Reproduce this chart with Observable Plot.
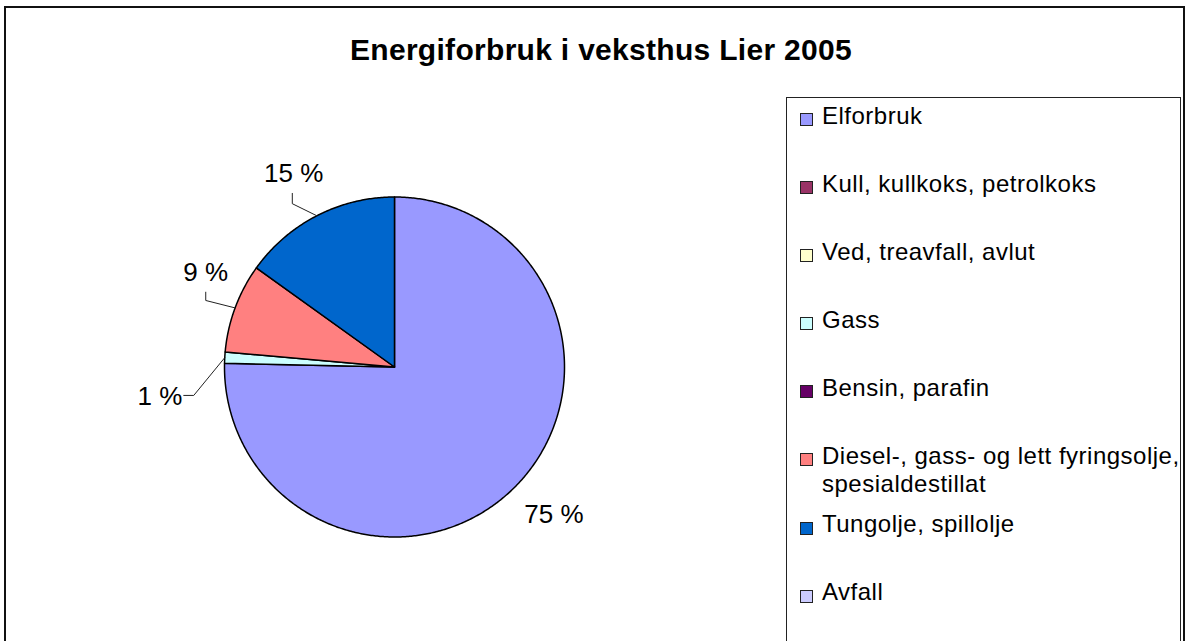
<!DOCTYPE html>
<html>
<head>
<meta charset="utf-8">
<script src="https://cdn.jsdelivr.net/npm/d3@7"></script>
<script src="https://cdn.jsdelivr.net/npm/@observablehq/plot@0.6"></script>
<style>
  html, body { margin: 0; padding: 0; background: #fff; }
  #chart { position: relative; width: 1189px; height: 641px; overflow: hidden;
           font-family: "Liberation Sans", Arial, sans-serif; }
  #frame { position: absolute; left: 4px; top: 6px; width: 1181px; height: 700px;
           border: 2px solid #111; box-sizing: border-box; }
  #pie { position: absolute; left: 0; top: 0; }
  #title { position: absolute; left: 0; width: 1202px; top: 34.6px; text-align: center;
           font-weight: bold; font-size: 30px; line-height: 30px; color: #000; white-space: nowrap;
           letter-spacing: 0.3px; }
  #legend { position: absolute; left: 786px; top: 97px; width: 395px; height: 600px;
            border: 1px solid #222; box-sizing: border-box; background: #fff; }
  .item { position: absolute; left: 0; width: 100%; font-size: 24px; line-height: 28px;
          letter-spacing: 0.5px; color: #000; }
  .sw { position: absolute; left: 13px; top: 11.3px; width: 13px; height: 13px;
        border: 1px solid #222; box-sizing: border-box; }
  .txt { position: absolute; left: 35px; top: 0; width: 364px; white-space: normal; }
</style>
</head>
<body>
<div id="chart">
  <div id="frame"></div>
  <div id="pie"></div>
  <div id="title"></div>
  <div id="legend"></div>
</div>
<script>
// ---- data ----
const title = "Energiforbruk i veksthus Lier 2005";
const categories = [
  "Elforbruk",
  "Kull, kullkoks, petrolkoks",
  "Ved, treavfall, avlut",
  "Gass",
  "Bensin, parafin",
  "Diesel-, gass- og lett fyringsolje, spesialdestillat",
  "Tungolje, spillolje",
  "Avfall"
];
const shares = [75.35, 0, 0, 1.05, 0, 8.5, 15.1, 0];
const colors = ["#9999FF", "#993366", "#FFFFCC", "#CCFFFF", "#660066", "#FF8080", "#0066CC", "#CCCCFF"];

// ---- layout (pixels) ----
const W = 1189, H = 641;
const CX = 394, CY = 366.5, R = 170;
// label placement: distance from centre (px), angle (deg clockwise from 12 o'clock),
// leader elbow/end offsets relative to the label centre (px, screen coords)
const labelPlacement = {
  "Elforbruk": { dist: 217.2, angle: 132.8, leader: null },
  "Gass": { dist: 236.4, angle: 262.8, leader: [[33.8, -1.2], [23.8, -1.2]] },
  "Diesel-, gass- og lett fyringsolje, spesialdestillat": { dist: 211.1, angle: 296.6, leader: [[0, 28], [0, 19.7]] },
  "Tungolje, spillolje": { dist: 218.5, angle: 332.5, leader: [[-1.3, 30.5], [-1.3, 20.2]] }
};

// ---- geometry in data units (1 unit = radius) ----
const rad = d => d * Math.PI / 180;
const polar = (r, deg) => [r * Math.sin(rad(deg)), r * Math.cos(rad(deg))];
const total = d3.sum(shares);
let cum = 0;
const slices = [];
categories.forEach((cat, i) => {
  const v = shares[i];
  const a0 = cum / total * 360;
  cum += v;
  const a1 = cum / total * 360;
  if (v > 0) slices.push({ cat, v, a0, a1 });
});

const slicePts = [];
slices.forEach(s => {
  slicePts.push({ cat: s.cat, x: 0, y: 0 });
  const n = Math.max(2, Math.ceil((s.a1 - s.a0) / 0.5));
  for (let k = 0; k <= n; k++) {
    const [x, y] = polar(1, s.a0 + (s.a1 - s.a0) * k / n);
    slicePts.push({ cat: s.cat, x, y });
  }
  slicePts.push({ cat: s.cat, x: 0, y: 0 });
});

const labels = [];
const leaderPts = [];
slices.forEach(s => {
  const p = labelPlacement[s.cat];
  if (!p) return;
  const [lx, ly] = polar(p.dist / R, p.angle);
  labels.push({ cat: s.cat, x: lx, y: ly, text: Math.round(s.v / total * 100) + " %" });
  if (p.leader) {
    const mid = (s.a0 + s.a1) / 2;
    const [ax, ay] = polar(1, mid);
    leaderPts.push({ cat: s.cat, x: ax, y: ay });
    p.leader.forEach(([dx, dy]) => leaderPts.push({ cat: s.cat, x: lx + dx / R, y: ly - dy / R }));
  }
});

const plot = Plot.plot({
  width: W,
  height: H,
  margin: 0,
  x: { domain: [-CX / R, (W - CX) / R], axis: null },
  y: { domain: [-(H - CY) / R, CY / R], axis: null },
  color: { domain: categories, range: colors },
  style: { background: "transparent", fontFamily: '"Liberation Sans", Arial, sans-serif' },
  marks: [
    Plot.line(slicePts, { x: "x", y: "y", z: "cat", fill: "cat", stroke: "#000", strokeWidth: 1.5, strokeLinejoin: "round" }),
    Plot.line(leaderPts, { x: "x", y: "y", z: "cat", stroke: "#222", strokeWidth: 1 }),
    Plot.text(labels, { x: "x", y: "y", text: "text", fontSize: 26, fill: "#000", textAnchor: "middle" })
  ]
});
document.getElementById("pie").appendChild(plot);

// ---- title ----
document.getElementById("title").textContent = title;

// ---- legend ----
const colorScale = plot.scale("color");
const leg = d3.select("#legend");
categories.forEach((cat, i) => {
  const item = leg.append("div").attr("class", "item").style("top", (3.7 + i * 68.1) + "px");
  item.append("div").attr("class", "sw").style("background", colorScale.apply(cat));
  item.append("div").attr("class", "txt").text(cat);
});
</script>
</body>
</html>
